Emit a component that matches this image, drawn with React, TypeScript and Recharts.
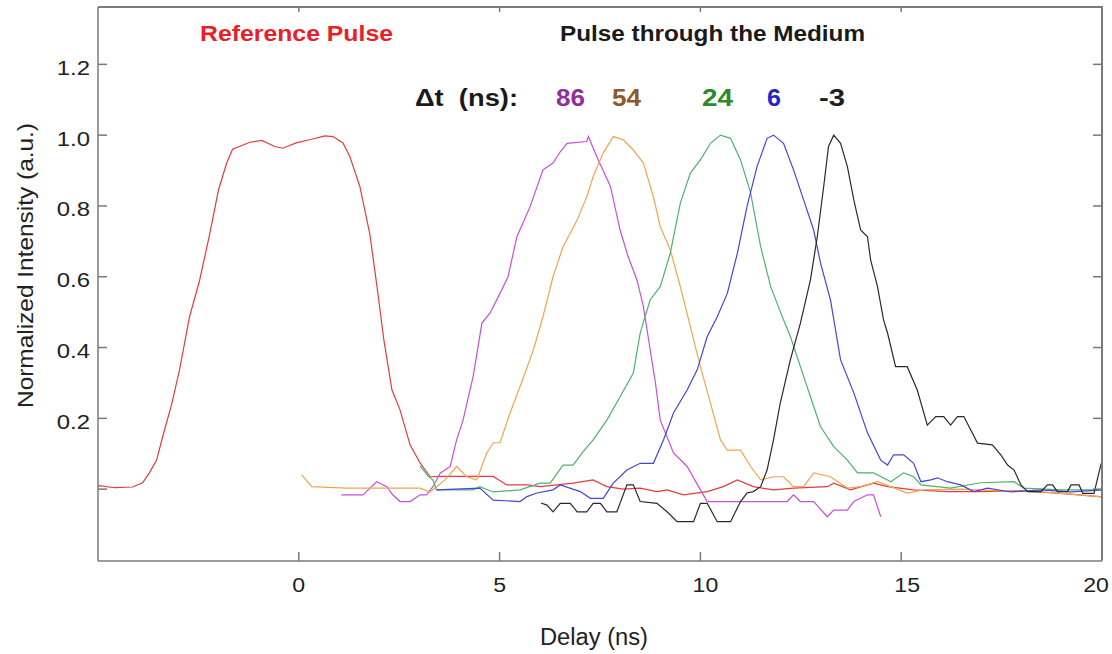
import { LineChart, Line, XAxis, YAxis } from 'recharts';

type Pt = [number, number];

const xDomain: [number, number] = [-5, 20];
const yDomain: [number, number] = [-0.203, 1.362];
const xTicks = [0, 5, 10, 15, 20];
const topTicks = [0, 5, 10, 15];
const yTicks = [0, 0.2, 0.4, 0.6, 0.8, 1.0, 1.2];

const referencePulse: Pt[] = [
  [-5.0, 0.006], [-4.96, 0.01], [-4.59, 0.004], [-4.14, 0.006], [-3.89, 0.018], [-3.72, 0.046],
  [-3.54, 0.082], [-3.39, 0.148], [-3.17, 0.238], [-2.97, 0.337], [-2.72, 0.487], [-2.47, 0.59],
  [-2.22, 0.72], [-2.0, 0.845], [-1.8, 0.92], [-1.65, 0.96], [-1.22, 0.98], [-0.92, 0.985],
  [-0.6, 0.968], [-0.4, 0.963], [-0.05, 0.979], [0.27, 0.987], [0.65, 0.998], [0.85, 0.996],
  [1.1, 0.978], [1.27, 0.94], [1.52, 0.855], [1.77, 0.72], [1.95, 0.57], [2.12, 0.42],
  [2.32, 0.28], [2.52, 0.224], [2.77, 0.125], [3.02, 0.074], [3.27, 0.035], [3.52, 0.036],
  [4.84, 0.036], [5.18, 0.012], [5.68, 0.012], [6.01, 0.007], [6.83, 0.017], [7.33, 0.026],
  [7.67, 0.007], [8.08, 0.0], [8.5, 0.003], [8.92, -0.007], [9.17, -0.002], [9.58, -0.016],
  [10.17, -0.007], [10.57, 0.007], [10.92, 0.026], [11.32, 0.007], [11.82, -0.002], [12.32, 0.003],
  [13.16, 0.007], [13.32, 0.017], [13.74, -0.002], [14.31, 0.017], [14.66, 0.007], [15.31, -0.002],
  [16.15, -0.007], [16.98, -0.007], [17.98, -0.005], [18.98, -0.012], [20.0, -0.022],
];

const pulse86: Pt[] = [
  [1.06, -0.016], [1.6, -0.016], [1.77, 0.003], [1.94, 0.021], [2.19, 0.007], [2.34, -0.016],
  [2.52, -0.035], [2.77, -0.035], [3.02, -0.016], [3.18, -0.016], [3.34, 0.007], [3.52, 0.045],
  [3.77, 0.064], [3.93, 0.139], [4.09, 0.195], [4.34, 0.318], [4.56, 0.469], [4.76, 0.497],
  [5.01, 0.553], [5.21, 0.6], [5.43, 0.713], [5.76, 0.798], [6.08, 0.902], [6.33, 0.921],
  [6.51, 0.953], [6.68, 0.977], [7.17, 0.982], [7.21, 0.996], [7.42, 0.939], [7.76, 0.855],
  [8.0, 0.732], [8.2, 0.657], [8.42, 0.591], [8.58, 0.516], [8.75, 0.393], [8.88, 0.3],
  [9.0, 0.195], [9.33, 0.102], [9.67, 0.064], [10.0, -0.002], [10.17, -0.035], [12.16, -0.035],
  [12.32, -0.016], [12.49, -0.035], [12.82, -0.035], [13.16, -0.078], [13.32, -0.059], [13.66, -0.059],
  [13.82, -0.035], [14.16, -0.016], [14.31, -0.016], [14.49, -0.078],
];

const pulse54: Pt[] = [
  [0.07, 0.04], [0.32, 0.007], [1.19, 0.003], [2.02, 0.003], [3.02, 0.003], [3.27, -0.008],
  [3.64, 0.026], [3.93, 0.064], [4.18, 0.035], [4.43, 0.026], [4.68, 0.102], [4.84, 0.131],
  [5.01, 0.131], [5.26, 0.215], [5.51, 0.29], [5.84, 0.393], [6.08, 0.487], [6.33, 0.6],
  [6.58, 0.685], [6.93, 0.76], [7.17, 0.826], [7.33, 0.883], [7.58, 0.95], [7.83, 0.996],
  [8.08, 0.987], [8.33, 0.958], [8.58, 0.921], [8.83, 0.826], [9.0, 0.742], [9.25, 0.676],
  [9.5, 0.572], [9.75, 0.459], [10.0, 0.346], [10.25, 0.243], [10.5, 0.139], [10.67, 0.11],
  [11.0, 0.11], [11.25, 0.064], [11.5, 0.026], [11.82, 0.035], [12.07, 0.035], [12.32, 0.007],
  [12.57, 0.007], [12.82, 0.046], [13.24, 0.035], [13.66, 0.003], [13.99, 0.007], [14.41, 0.021],
  [14.74, 0.007], [15.15, -0.011], [15.56, -0.002], [16.48, 0.0], [17.48, -0.005], [18.48, -0.008],
  [19.23, -0.014], [20.0, -0.022],
];

const pulse24: Pt[] = [
  [3.02, 0.066], [3.22, 0.037], [3.34, 0.026], [3.43, -0.002], [4.34, -0.002], [4.51, 0.007],
  [4.84, -0.008], [5.51, -0.002], [6.01, 0.017], [6.26, 0.017], [6.58, 0.068], [6.83, 0.068],
  [7.08, 0.106], [7.33, 0.139], [7.67, 0.195], [8.0, 0.261], [8.33, 0.328], [8.5, 0.441],
  [8.75, 0.535], [9.0, 0.572], [9.25, 0.667], [9.5, 0.808], [9.75, 0.893], [10.0, 0.93],
  [10.25, 0.977], [10.5, 1.0], [10.75, 0.991], [11.0, 0.93], [11.25, 0.837], [11.5, 0.685],
  [11.75, 0.572], [12.0, 0.498], [12.24, 0.431], [12.49, 0.346], [12.74, 0.261], [12.99, 0.177],
  [13.32, 0.12], [13.66, 0.082], [13.91, 0.046], [14.31, 0.046], [14.66, 0.026], [14.74, 0.021],
  [15.06, 0.046], [15.31, 0.035], [15.49, 0.012], [16.23, 0.003], [16.98, 0.018], [17.81, 0.021],
  [18.05, 0.003], [18.98, -0.002], [20.0, -0.002],
];

const pulse6: Pt[] = [
  [3.43, -0.002], [4.51, 0.003], [4.84, -0.031], [5.51, -0.035], [5.68, -0.021], [5.93, -0.011],
  [6.33, -0.002], [6.51, 0.012], [7.01, -0.007], [7.26, -0.026], [7.58, -0.026], [7.83, 0.017],
  [8.17, 0.054], [8.5, 0.073], [8.83, 0.073], [9.08, 0.139], [9.33, 0.215], [9.67, 0.28],
  [9.92, 0.337], [10.17, 0.431], [10.42, 0.487], [10.67, 0.553], [10.92, 0.666], [11.16, 0.798],
  [11.41, 0.911], [11.66, 0.991], [11.82, 1.0], [12.07, 0.977], [12.32, 0.902], [12.57, 0.817],
  [12.82, 0.732], [12.99, 0.639], [13.24, 0.534], [13.49, 0.365], [13.82, 0.272], [14.16, 0.159],
  [14.49, 0.082], [14.66, 0.068], [14.81, 0.097], [15.06, 0.097], [15.31, 0.073], [15.49, 0.021],
  [15.74, 0.026], [15.9, 0.032], [16.15, 0.021], [16.48, 0.012], [16.81, -0.007], [17.15, 0.003],
  [17.73, -0.008], [18.48, -0.002], [19.23, -0.008], [20.0, -0.002],
];

const pulseMinus3: Pt[] = [
  [6.03, -0.039], [6.18, -0.045], [6.33, -0.064], [6.51, -0.04], [6.76, -0.04], [6.93, -0.064],
  [7.17, -0.064], [7.33, -0.04], [7.51, -0.04], [7.67, -0.064], [7.92, -0.064], [8.17, 0.012],
  [8.33, 0.012], [8.5, -0.035], [8.92, -0.04], [9.17, -0.064], [9.42, -0.092], [9.83, -0.092],
  [10.0, -0.04], [10.17, -0.04], [10.42, -0.092], [10.75, -0.092], [11.0, -0.035], [11.16, -0.011],
  [11.32, -0.007], [11.5, 0.007], [11.66, 0.054], [11.82, 0.139], [11.99, 0.244], [12.24, 0.365],
  [12.49, 0.469], [12.74, 0.591], [12.91, 0.713], [13.07, 0.855], [13.19, 0.968], [13.32, 1.0],
  [13.49, 0.977], [13.66, 0.911], [13.82, 0.817], [13.99, 0.732], [14.16, 0.713], [14.24, 0.647],
  [14.41, 0.572], [14.56, 0.478], [14.66, 0.441], [14.86, 0.346], [15.15, 0.346], [15.4, 0.28],
  [15.65, 0.181], [15.86, 0.205], [16.06, 0.205], [16.23, 0.181], [16.4, 0.205], [16.56, 0.205],
  [16.9, 0.13], [17.27, 0.125], [17.48, 0.097], [17.65, 0.068], [17.81, 0.054], [17.98, 0.012],
  [18.15, -0.007], [18.48, -0.007], [18.64, 0.012], [18.77, 0.012], [18.89, -0.007], [19.14, -0.007],
  [19.23, 0.012], [19.43, 0.012], [19.52, -0.012], [19.8, -0.012], [19.98, 0.073],
];

const series = [
  { name: 'Reference', pts: referencePulse, color: '#e43c3c' },
  { name: '86', pts: pulse86, color: '#c84fd8' },
  { name: '54', pts: pulse54, color: '#f0a552' },
  { name: '24', pts: pulse24, color: '#4db36e' },
  { name: '6', pts: pulse6, color: '#4646d6' },
  { name: '-3', pts: pulseMinus3, color: '#2a2a2a' },
];

// delay labels: text, left edge, rendered width, colour
const delayLabels = [
  { text: '86', x: 556, w: 29, color: '#8e2f9c' },
  { text: '54', x: 612, w: 29, color: '#8c5a2c' },
  { text: '24', x: 702, w: 31, color: '#2c8a2c' },
  { text: '6', x: 767, w: 14, color: '#2424cc' },
  { text: '-3', x: 819, w: 26, color: '#1e1e1e' },
];

// small horizontal nudges of the x tick labels, as in the original figure
const xTickNudge: Record<number, number> = { 10: 5, 15: 6, 20: -6 };

const font = '"Liberation Sans", Arial, Helvetica, sans-serif';
const axisColor = '#7a7a7a';

// plot box (chart is 1112x654, margins below place it here)
const W = 1112;
const H = 654;
const box = { left: 98, top: 7, right: 1102, bottom: 561 };
const px = (v: number) =>
  box.left + ((v - xDomain[0]) / (xDomain[1] - xDomain[0])) * (box.right - box.left);
const py = (v: number) =>
  box.bottom - ((v - yDomain[0]) / (yDomain[1] - yDomain[0])) * (box.bottom - box.top);

const toRows = (pts: Pt[]) => pts.map(([x, y]) => ({ x, y }));

const XTick = (props: any) => {
  const { x, y, payload } = props;
  const dx = xTickNudge[payload.value] ?? 0;
  return (
    <g transform={`translate(${x + dx},${y + 15})`}>
      <text textAnchor="middle" transform="scale(1.1,1)" fontSize={21} fontFamily={font} fill="#222">
        {payload.value}
      </text>
    </g>
  );
};

const YTick = (props: any) => {
  const { x, y, payload } = props;
  if (payload.value === 0) return <g />;
  return (
    <g transform={`translate(${x},${y + 10.5})`}>
      <text textAnchor="end" transform="scale(1.14,1)" fontSize={21} fontFamily={font} fill="#222">
        {Number(payload.value).toFixed(1)}
      </text>
    </g>
  );
};

export default function App() {
  return (
    <div style={{ position: 'absolute', left: 0, top: 0, width: W, height: H, background: '#fff' }}>
      <LineChart
        width={W}
        height={H}
        margin={{ top: box.top, right: W - box.right, bottom: 0, left: 0 }}
      >
        <XAxis
          dataKey="x"
          type="number"
          domain={xDomain}
          ticks={xTicks}
          allowDataOverflow
          height={H - box.bottom}
          stroke={axisColor}
          strokeWidth={1.5}
          tickSize={-9}
          tickMargin={25}
          tick={<XTick />}
        />
        <YAxis
          type="number"
          domain={yDomain}
          ticks={yTicks}
          allowDataOverflow
          width={box.left}
          stroke={axisColor}
          strokeWidth={1.5}
          tickSize={-9}
          tickMargin={17}
          tick={<YTick />}
        />
        {series.map((s) => (
          <Line
            key={s.name}
            data={toRows(s.pts)}
            dataKey="y"
            type="linear"
            stroke={s.color}
            strokeWidth={1.2}
            dot={false}
            isAnimationActive={false}
          />
        ))}
      </LineChart>
      {/* top and right frame edges */}
      <div
        style={{
          position: 'absolute',
          left: box.left,
          top: box.top - 1,
          width: box.right - box.left + 1,
          height: box.bottom - box.top,
          borderTop: `2px solid ${axisColor}`,
          borderRight: `2px solid ${axisColor}`,
          boxSizing: 'border-box',
          pointerEvents: 'none',
        }}
      />
      <svg
        width={W}
        height={H}
        style={{ position: 'absolute', left: 0, top: 0, pointerEvents: 'none', fontFamily: font }}
      >
        {topTicks.map((t) => (
          <rect key={`t${t}`} x={px(t) - 0.75} y={box.top} width={1.5} height={5} fill={axisColor} />
        ))}
        {yTicks.map((t) => (
          <rect key={`r${t}`} x={box.right - 9} y={py(t) - 0.75} width={9} height={1.5} fill={axisColor} />
        ))}
        <text x={200} y={41} fontSize={22} fontWeight="bold" fill="#e8202a" textLength={193} lengthAdjust="spacingAndGlyphs">
          Reference Pulse
        </text>
        <text x={560} y={41} fontSize={22} fontWeight="bold" fill="#1a1a1a" textLength={305} lengthAdjust="spacingAndGlyphs">
          Pulse through the Medium
        </text>
        <text
          x={415}
          y={106}
          fontSize={23}
          fontWeight="bold"
          fill="#1a1a1a"
          textLength={103}
          lengthAdjust="spacingAndGlyphs"
          style={{ whiteSpace: 'pre' }}
        >
          {'Δt  (ns):'}
        </text>
        {delayLabels.map((d) => (
          <text
            key={d.text}
            x={d.x}
            y={106}
            fontSize={23}
            fontWeight="bold"
            fill={d.color}
            textLength={d.w}
            lengthAdjust="spacingAndGlyphs"
          >
            {d.text}
          </text>
        ))}
        <text x={540} y={645} fontSize={23} fill="#222" textLength={108} lengthAdjust="spacingAndGlyphs">
          Delay (ns)
        </text>
        <text
          x={0}
          y={0}
          transform="translate(33 408) rotate(-90)"
          fontSize={22}
          fill="#222"
          textLength={285}
          lengthAdjust="spacingAndGlyphs"
        >
          Normalized Intensity (a.u.)
        </text>
      </svg>
    </div>
  );
}
